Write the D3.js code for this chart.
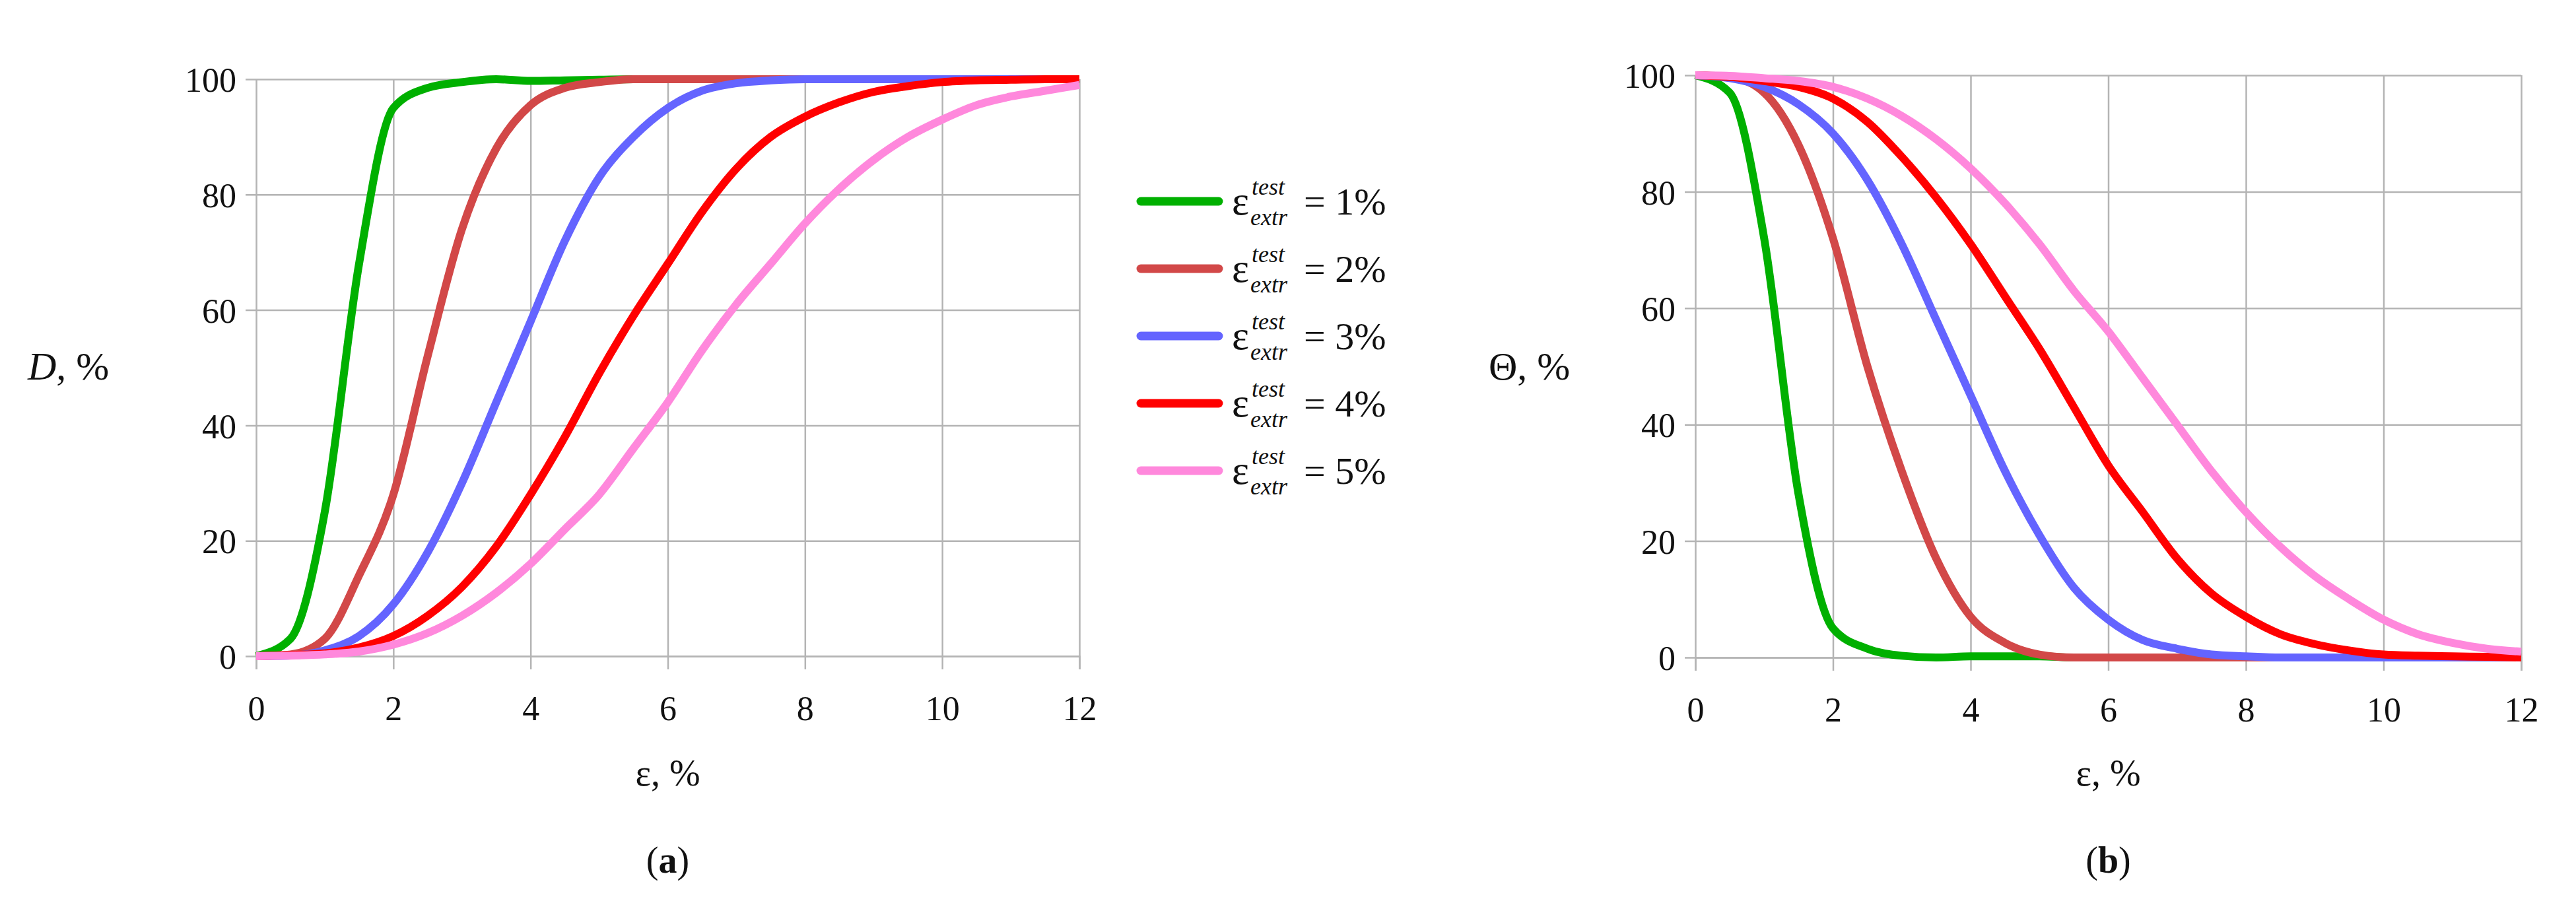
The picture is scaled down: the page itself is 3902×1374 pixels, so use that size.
<!DOCTYPE html>
<html>
<head>
<meta charset="utf-8">
<title>D and Theta curves</title>
<script src="https://cdn.jsdelivr.net/npm/d3@7"></script>
<style>
body { margin: 0; background: #fff; }
text { font-family: "Liberation Serif", "DejaVu Serif", serif; fill: #111; }
</style>
</head>
<body>
<script>
var eps = [0,0.5,1,1.5,2,2.5,3,3.5,4,4.5,5,5.5,6,6.5,7,7.5,8,8.5,9,9.5,10,10.5,11,11.5,12];
var names = ["1%","2%","3%","4%","5%"];
var colors = ["#00b000","#d24848","#6464ff","#ff0000","#ff88dc"];

var D1 = [0,3,25,68,95,98.5,99.5,100,99.7,99.8,99.9,100,100,100,100,100,100,100,100,100,100,100,100,100,100];
var D2 = [0,0.3,3,14,28,52,74,88,95.5,98.5,99.5,100,100,100,100,100,100,100,100,100,100,100,100,100,100];
var D3 = [0,0.1,1,3.5,9,18,30,44,58,72,83,90,95,98,99.3,99.8,100,100,100,100,100,100,100,100,100];
var D4 = [0,0.2,0.5,1.5,3.5,7,12,19,28,38,49,59,68,77,84.5,90,93.5,96,97.8,98.8,99.5,99.8,99.9,100,100];
var D5 = [0,0.1,0.3,0.8,2,4,7,11,16,22,28,36,44,53,61,68,75,81,86,90,93,95.5,97,98,99];

var T1 = [100,97,72,28,5,1.5,0.3,0,0.2,0.2,0.2,0,0,0,0,0,0,0,0,0,0,0,0,0,0];
var T2 = [100,99.7,97,88,72,50,32,17,7,2.5,0.5,0,0,0,0,0,0,0,0,0,0,0,0,0,0];
var T3 = [100,99.5,98,95,90,82,71,58,45,32,21,12,6.5,3,1.5,0.5,0.2,0,0,0,0,0,0,0,0];
var T4 = [100,99.7,99,98,96,92,86,79,71,62,53,43,33,25,17,11,7,4,2.3,1.2,0.5,0.3,0.2,0.1,0];
var T5 = [100,99.9,99.5,99,98,96,93,89,84,78,71,63,56,48,40,32,25,19,14,10,6.5,4,2.5,1.5,1];

var xTicks = [0,2,4,6,8,10,12];
var yTicks = [0,20,40,60,80,100];

var svg = d3.select("body").append("svg").attr("width", 3902).attr("height", 1374);

function panel(x0, x1, y0, y1, series, ylab, ylabX, caption) {
	var x = d3.scaleLinear().domain([0,12]).range([x0,x1]);
	var y = d3.scaleLinear().domain([0,100]).range([y0,y1]);
	var g = svg.append("g");

	g.append("g").attr("transform", "translate(0," + y0 + ")")
		.call(d3.axisBottom(x).tickValues(xTicks).tickSize(y1 - y0).tickSizeOuter(0).tickFormat(""))
		.call(function(a){ a.select(".domain").remove(); a.selectAll("line").attr("stroke","#b4b4b4").attr("stroke-width",2.5); });
	g.append("g").attr("transform", "translate(0," + y0 + ")")
		.call(d3.axisBottom(x).tickValues(xTicks).tickSize(20).tickPadding(40))
		.call(function(a){ a.select(".domain").attr("stroke","#b4b4b4").attr("stroke-width",2.5);
			a.selectAll("line").attr("stroke","#b4b4b4").attr("stroke-width",2.5);
			a.selectAll("text").attr("font-size",52).style("font-family","Liberation Serif"); });
	g.append("g").attr("transform", "translate(" + x1 + ",0)")
		.call(d3.axisLeft(y).tickValues(yTicks).tickSize(x1 - x0 + 16).tickPadding(14))
		.call(function(a){ a.select(".domain").remove();
			a.selectAll("line").attr("stroke","#b4b4b4").attr("stroke-width",2.5);
			a.selectAll("text").attr("font-size",52).attr("dy","0.36em").style("font-family","Liberation Serif"); });

	var line = d3.line().x(function(d,i){ return x(eps[i]); }).y(function(d){ return y(d); }).curve(d3.curveMonotoneX);
	series.forEach(function(s, i) {
		g.append("path").attr("d", line(s)).attr("fill","none")
			.attr("stroke", colors[i]).attr("stroke-width", 12).attr("stroke-linejoin","round");
	});

	g.append("text").attr("x", (x0 + x1) / 2).attr("y", 1190).attr("text-anchor","middle")
		.attr("font-size", 56).text("ε, %");
	g.append("text").attr("x", ylabX).attr("y", 575).attr("font-size", 60).html(ylab);
	g.append("text").attr("x", (x0 + x1) / 2).attr("y", 1322).attr("text-anchor","middle")
		.attr("font-size", 56).html("(<tspan font-weight='bold'>" + caption + "</tspan>)");
}

panel(388, 1635, 994, 120, [D1,D2,D3,D4,D5], "<tspan font-style='italic'>D</tspan>, %", 42, "a");
panel(2568, 3819, 996, 114, [T1,T2,T3,T4,T5], "Θ, %", 2255, "b");

// legend
var leg = svg.append("g");
names.forEach(function(n, i) {
	var yy = 305 + i * 102;
	leg.append("line").attr("x1",1728).attr("x2",1846).attr("y1",yy).attr("y2",yy)
		.attr("stroke", colors[i]).attr("stroke-width", 13).attr("stroke-linecap","round");
	leg.append("text").attr("x",1866).attr("y",yy+20).attr("font-size",62).text("ε");
	leg.append("text").attr("x",1896).attr("y",yy-10).attr("font-size",36).attr("font-style","italic").text("test");
	leg.append("text").attr("x",1894).attr("y",yy+36).attr("font-size",36).attr("font-style","italic").text("extr");
	leg.append("text").attr("x",1975).attr("y",yy+20).attr("font-size",58).text("= " + n);
});
</script>
</body>
</html>
